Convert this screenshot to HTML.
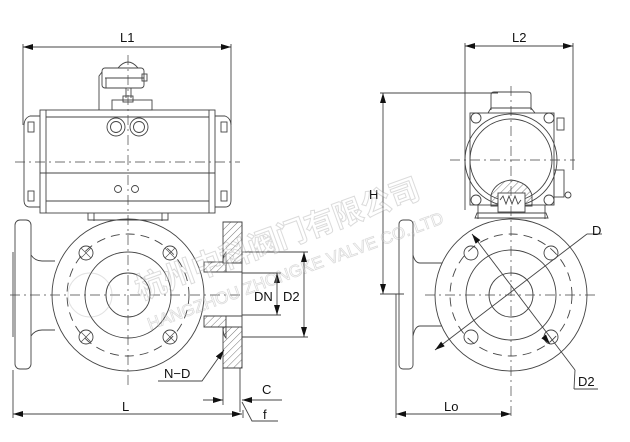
<!DOCTYPE html>
<html><head><meta charset="utf-8"><style>
html,body{margin:0;padding:0;background:#fff}
svg{display:block}
text{font-family:"Liberation Sans","Noto Sans CJK SC",sans-serif;fill:#111}
</style></head><body>
<svg width="630" height="442" viewBox="0 0 630 442" xmlns="http://www.w3.org/2000/svg">
<defs>
<pattern id="h" width="5" height="5" patternUnits="userSpaceOnUse" patternTransform="rotate(45)"><line x1="0" y1="0" x2="0" y2="5" stroke="#555" stroke-width="0.8"/></pattern>
<marker id="a" markerWidth="10" markerHeight="6" refX="10" refY="3" orient="auto-start-reverse" markerUnits="userSpaceOnUse"><path d="M0,0 L10,3 L0,6 z" fill="#111"/></marker>
</defs>
<g fill="none" stroke="#444" stroke-width="0.9">
<!-- ===== LEFT VIEW ===== -->
<!-- L1 -->
<line x1="23" y1="44" x2="23" y2="125"/><line x1="231" y1="44" x2="231" y2="125"/>
<line x1="23" y1="47" x2="231" y2="47" marker-start="url(#a)" marker-end="url(#a)"/>
<!-- actuator -->
<rect x="40" y="110" width="175" height="103"/>
<line x1="46" y1="110" x2="46" y2="213"/><line x1="209" y1="110" x2="209" y2="213"/>
<line x1="46" y1="117" x2="209" y2="117"/><line x1="40" y1="173" x2="215" y2="173"/><line x1="46" y1="201" x2="209" y2="201"/>
<path d="M40,116 L30,116 Q24,118 24,126 L24,200 Q24,207 30,207 L40,207"/>
<path d="M215,116 L225,116 Q231,118 231,126 L231,200 Q231,207 225,207 L215,207"/>
<rect x="28" y="122" width="6" height="10"/><rect x="28" y="191" width="6" height="10"/>
<rect x="221" y="122" width="6" height="10"/><rect x="221" y="191" width="6" height="10"/>
<circle cx="116" cy="127" r="9"/><circle cx="116" cy="127" r="5.5"/>
<circle cx="139" cy="127" r="9"/><circle cx="139" cy="127" r="5.5"/>
<circle cx="118" cy="189" r="3.5"/><circle cx="135" cy="189" r="3.5"/>
<!-- switch box -->
<path d="M118,68 Q128,56 138,68"/>
<rect x="102" y="68" width="42" height="20" rx="3"/>
<line x1="105" y1="78" x2="144" y2="78"/>
<rect x="142" y="74" width="5" height="7"/>
<path d="M102,72 L99,76 L99,110"/><line x1="106" y1="78" x2="106" y2="88"/>
<line x1="126" y1="88" x2="126" y2="98"/><line x1="131" y1="88" x2="131" y2="98"/>
<rect x="112" y="100" width="40" height="10"/><rect x="123" y="96" width="10" height="6"/>
<!-- bottom adapter -->
<path d="M88,213 L88,220 L168,220 L168,213"/>
<line x1="94" y1="213" x2="94" y2="221"/><line x1="162" y1="213" x2="162" y2="221"/>
<!-- valve flange -->
<circle cx="128" cy="295" r="76"/>
<circle cx="128" cy="295" r="43"/>
<circle cx="128" cy="295" r="22"/>
<circle cx="128" cy="295" r="61" stroke-dasharray="9,6"/>
<circle cx="86" cy="253" r="7"/><circle cx="170" cy="253" r="7"/>
<circle cx="86" cy="337" r="7"/><circle cx="170" cy="337" r="7"/>
<g stroke-width="0.6"><line x1="81" y1="248" x2="91" y2="258"/><line x1="81" y1="258" x2="91" y2="248"/>
<line x1="165" y1="248" x2="175" y2="258"/><line x1="165" y1="258" x2="175" y2="248"/>
<line x1="81" y1="332" x2="91" y2="342"/><line x1="81" y1="342" x2="91" y2="332"/>
<line x1="165" y1="332" x2="175" y2="342"/><line x1="165" y1="342" x2="175" y2="332"/></g>
<!-- left flange -->
<rect x="15" y="220" width="16" height="149" rx="5"/>
<line x1="13" y1="252" x2="13" y2="337"/>
<path d="M31,255 Q35,261 42,261 L55,261"/><path d="M31,336 Q35,330 42,330 L55,330"/>
<!-- right hatched flange -->
<path d="M223,222 L242,222 L242,263 L223,263 Z" fill="url(#h)"/>
<path d="M223,327 L242,327 L242,368 L223,368 Z" fill="url(#h)"/>
<path d="M204,262 L223,262 Q223,255 226,252 L226,272 L204,272 Z" fill="url(#h)"/>
<path d="M204,316 L226,316 L226,338 Q223,335 223,327 L204,327 Z" fill="url(#h)"/>
<line x1="204" y1="272" x2="242" y2="272"/><line x1="204" y1="316" x2="242" y2="316"/>
<line x1="242" y1="222" x2="242" y2="368"/>
<line x1="240" y1="368" x2="240" y2="412"/>
<!-- dims DN D2 -->
<line x1="242" y1="252" x2="308" y2="252"/><line x1="242" y1="337" x2="308" y2="337"/>
<line x1="304" y1="252" x2="304" y2="337" marker-start="url(#a)" marker-end="url(#a)"/>
<line x1="242" y1="273" x2="281" y2="273"/><line x1="242" y1="315" x2="281" y2="315"/>
<line x1="277" y1="273" x2="277" y2="315" marker-start="url(#a)" marker-end="url(#a)"/>
<!-- N-D leader -->
<path d="M224,350 L202,381 L158,381" marker-start="url(#a)"/>
<!-- L dim -->
<line x1="13" y1="370" x2="13" y2="418"/><line x1="243" y1="410" x2="243" y2="418"/>
<line x1="13" y1="414" x2="242" y2="414" marker-start="url(#a)" marker-end="url(#a)"/>
<!-- C / f -->
<line x1="223" y1="368" x2="223" y2="405"/>
<line x1="203" y1="400" x2="223" y2="400" marker-end="url(#a)"/>
<line x1="282" y1="400" x2="242" y2="400" marker-end="url(#a)"/>
<path d="M242,402 L252,421 L278,421"/>
<!-- center lines -->
<g stroke-dasharray="10,4,2,4" stroke-width="0.7">
<line x1="128" y1="55" x2="128" y2="385"/>
<line x1="15" y1="162" x2="240" y2="162"/>
<line x1="10" y1="295" x2="240" y2="295"/>
</g>
<!-- ===== RIGHT VIEW ===== -->
<line x1="465" y1="43" x2="465" y2="210"/><line x1="573" y1="43" x2="573" y2="170"/>
<line x1="465" y1="46" x2="573" y2="46" marker-start="url(#a)" marker-end="url(#a)"/>
<line x1="380" y1="93" x2="498" y2="93"/>
<line x1="383" y1="93" x2="383" y2="294" marker-start="url(#a)" marker-end="url(#a)"/>
<line x1="380" y1="294" x2="404" y2="294"/>
<!-- actuator end -->
<path d="M491,110 L491,95 Q491,92 494,92 L528,92 Q531,92 531,95 L531,110"/>
<path d="M488,113 L491,108 L531,108 L535,113"/>
<rect x="470" y="113" width="84" height="92"/>
<circle cx="511" cy="160" r="46"/><circle cx="511" cy="160" r="41"/>
<circle cx="476" cy="118" r="5"/><circle cx="549" cy="118" r="5"/>
<circle cx="476" cy="200" r="5"/><circle cx="549" cy="200" r="5"/>
<rect x="554" y="170" width="10" height="27"/><circle cx="568" cy="195" r="3"/>
<rect x="557" y="118" width="7" height="12"/>
<path d="M491,206 L491,195 Q495,182 511,180 Q528,182 532,195 L532,206 Z" fill="url(#h)"/>
<rect x="498" y="193" width="27" height="19" fill="#fff"/>
<path d="M500,200 l3,-4 l3,8 l3,-8 l3,8 l3,-8 l3,8 l3,-4"/>
<path d="M477,213 L475,218 L548,218 L546,213 Z"/>
<line x1="478" y1="205" x2="478" y2="219"/><line x1="545" y1="205" x2="545" y2="219"/>
<!-- flange -->
<circle cx="511" cy="295" r="76"/>
<circle cx="511" cy="295" r="45"/>
<circle cx="511" cy="295" r="22"/>
<circle cx="511" cy="295" r="61" stroke-dasharray="9,6"/>
<circle cx="471" cy="253" r="7"/><circle cx="551" cy="253" r="7"/>
<circle cx="471" cy="337" r="7"/><circle cx="551" cy="337" r="7"/>
<rect x="399" y="220" width="14" height="149" rx="4"/>
<line x1="396" y1="294" x2="396" y2="418"/>
<path d="M413,255 Q415,263 420,263 L442,263"/><path d="M413,336 Q415,326 420,326 L442,326"/>
<line x1="396" y1="414" x2="511" y2="414" marker-start="url(#a)" marker-end="url(#a)"/>
<!-- D / D2 -->
<line x1="435" y1="350" x2="587" y2="234" marker-start="url(#a)"/>
<line x1="587" y1="234" x2="602" y2="234"/>
<line x1="472" y1="234" x2="575" y2="370" marker-start="url(#a)"/>
<path d="M548,342 L575,370 L575,390 L596,390" stroke="none"/>
<line x1="575" y1="370" x2="575" y2="370"/>
<line x1="575" y1="370" x2="574" y2="389"/><line x1="574" y1="389" x2="598" y2="389"/>
<line x1="545" y1="338" x2="550" y2="344" marker-end="url(#a)"/>
<g stroke-dasharray="10,4,2,4" stroke-width="0.7">
<line x1="511" y1="86" x2="511" y2="418"/>
<line x1="450" y1="160" x2="575" y2="160"/>
<line x1="425" y1="295" x2="595" y2="295"/>
</g>
</g>
<!-- labels -->
<g font-size="13">
<text x="120" y="42">L1</text>
<text x="512" y="42">L2</text>
<text x="369" y="199">H</text>
<text x="254" y="301">DN</text>
<text x="283" y="301">D2</text>
<text x="164" y="378">N−D</text>
<text x="262" y="394">C</text>
<text x="263" y="419">f</text>
<text x="122" y="411">L</text>
<text x="444" y="411">Lo</text>
<text x="592" y="235">D</text>
<text x="578" y="386">D2</text>
</g>
<!-- watermark -->
<g opacity="0.35" fill="none" stroke="#888">
<text x="140" y="300" transform="rotate(-20 140 300)" font-size="30" font-weight="bold" style="fill:#fff;stroke:#999;stroke-width:1">杭州中科阀门有限公司</text>
<text x="150" y="330" transform="rotate(-20 150 330)" font-size="17" style="fill:#fff;stroke:#999;stroke-width:0.8">HANGZHOU ZHONGKE VALVE CO.,LTD</text>
<circle cx="90" cy="295" r="22" stroke="#aaa"/>
</g>
</svg>
</body></html>
